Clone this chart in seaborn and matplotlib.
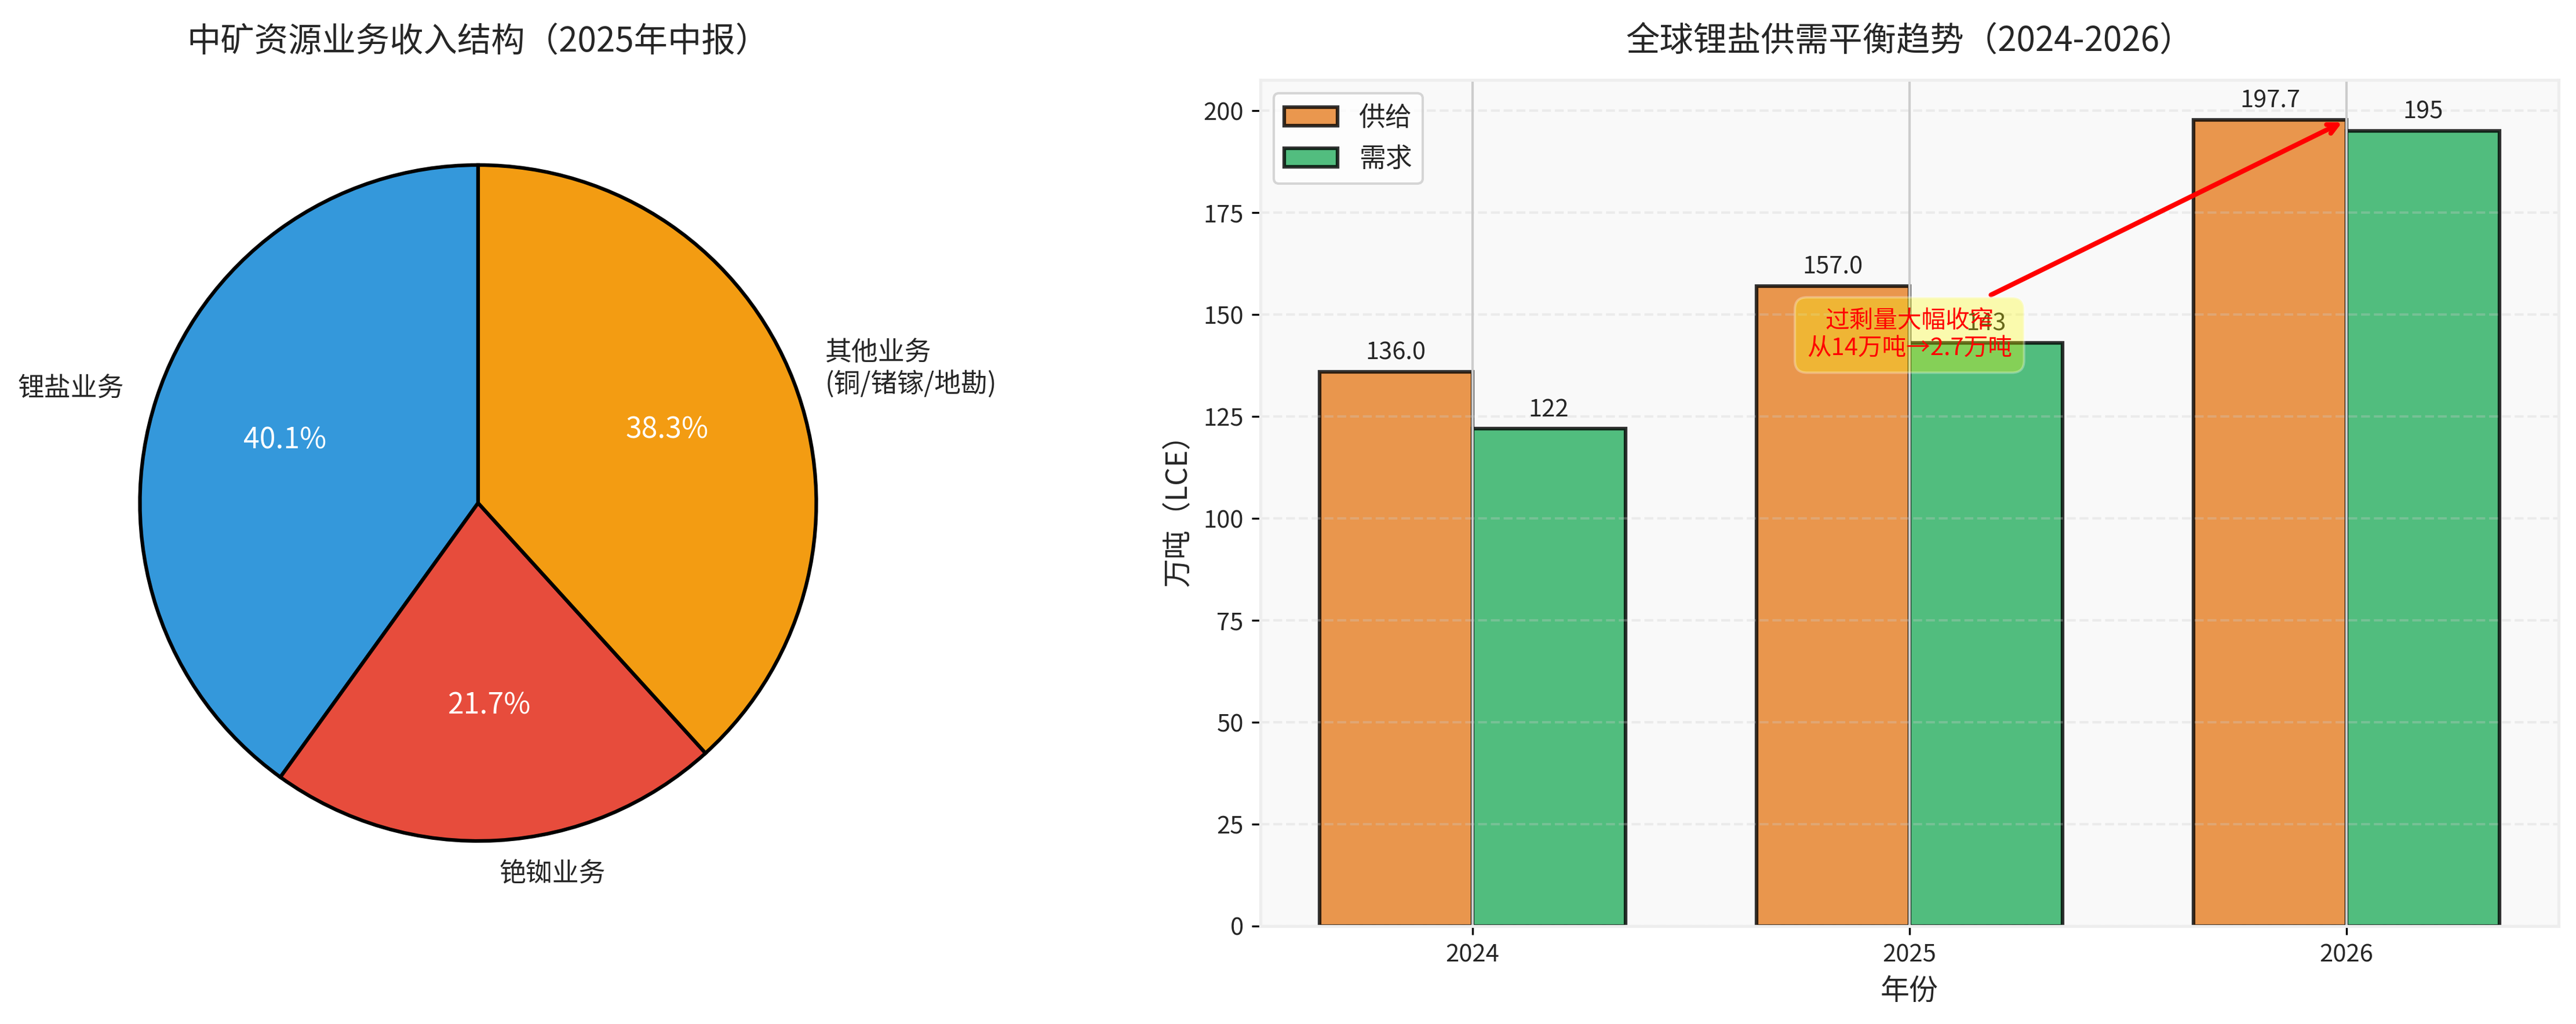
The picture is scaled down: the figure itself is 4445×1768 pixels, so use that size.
import matplotlib
matplotlib.use('Agg')

import matplotlib.pyplot as plt
import seaborn as sns
import pandas as pd

# 左图：业务收入结构
pie_labels = ['锂盐业务', '铯铷业务', '其他业务\n(铜/锗镓/地勘)']
pie_values = [40.1, 21.7, 38.3]
pie_colors = ['#3498db', '#e74c3c', '#f39c12']

# 右图：供需平衡
years = ['2024', '2025', '2026']
supply = [136.0, 157.0, 197.7]
demand = [122, 143, 195]
series_names = ['供给', '需求']
bar_colors = ['#e67e22', '#27ae60']

sns.set_theme(style='whitegrid')
plt.rcParams['font.family'] = ['Noto Sans CJK SC', 'DejaVu Sans']
plt.rcParams['axes.unicode_minus'] = False

fig = plt.figure(figsize=(4445 / 300, 1768 / 300), dpi=300)
ax1 = fig.add_axes([0.0215, 0.0956, 0.3282, 0.8264])
ax2 = fig.add_axes([0.4893, 0.0956, 0.5039, 0.8264])

# ---- 饼图 ----
wedges, texts, autotexts = ax1.pie(
    pie_values,
    labels=pie_labels,
    colors=pie_colors,
    autopct='%1.1f%%',
    startangle=90,
    wedgeprops={'edgecolor': 'black', 'linewidth': 1.5},
    textprops={'fontsize': 11},
)
for t in autotexts:
    t.set_color('white')
    t.set_fontsize(12)
ax1.set_title('中矿资源业务收入结构（2025年中报）', fontsize=14, pad=12)

# ---- 柱状图 ----
df = pd.DataFrame({
    'year': years * 2,
    'value': supply + demand,
    'kind': [series_names[0]] * len(years) + [series_names[1]] * len(years),
})
sns.barplot(data=df, x='year', y='value', hue='kind', palette=bar_colors,
            width=0.7, saturation=1, alpha=0.8, edgecolor='black',
            linewidth=1.5, errorbar=None, ax=ax2)

ax2.bar_label(ax2.containers[0], labels=[f'{v:.1f}' for v in supply],
              padding=3, fontsize=10)
ax2.bar_label(ax2.containers[1], labels=[f'{v}' for v in demand],
              padding=3, fontsize=10)

ax2.set_xlim(-0.485, len(years) - 1 + 0.485)
ax2.set_ylim(0, max(supply) * 1.05)
ax2.set_facecolor('#f9f9f9')
ax2.set_axisbelow('line')
ax2.grid(axis='x', color='#cccccc', linewidth=1, linestyle='-')
ax2.grid(axis='y', color='#cccccc', linestyle='--', alpha=0.3)
for s in ax2.spines.values():
    s.set_color('#eeeeee')
    s.set_linewidth(1.25)
ax2.tick_params(axis='both', length=3.5, width=0.8, color='black',
                labelsize=10, left=True, bottom=True)

ax2.set_title('全球锂盐供需平衡趋势（2024-2026）', fontsize=14, pad=12)
ax2.set_xlabel('年份', fontsize=12)
ax2.set_ylabel('万吨（LCE）', fontsize=12)

handles, labels = ax2.get_legend_handles_labels()
ax2.legend(handles, labels, loc='upper left', fontsize=11, frameon=True,
           facecolor='white', edgecolor='#cccccc', framealpha=0.8)

gap_start = supply[0] - demand[0]
gap_end = round(supply[-1] - demand[-1], 1)
ax2.annotate(f'过剩量大幅收窄\n从{gap_start:.0f}万吨→{gap_end}万吨',
             xy=(2, supply[-1]), xytext=(1, 145),
             ha='center', va='center', fontsize=10, color='red',
             bbox=dict(boxstyle='round,pad=0.5', facecolor='yellow', alpha=0.3),
             arrowprops=dict(arrowstyle='->', color='red', lw=2))

fig.savefig('out.png', dpi=300)
plt.close(fig)
